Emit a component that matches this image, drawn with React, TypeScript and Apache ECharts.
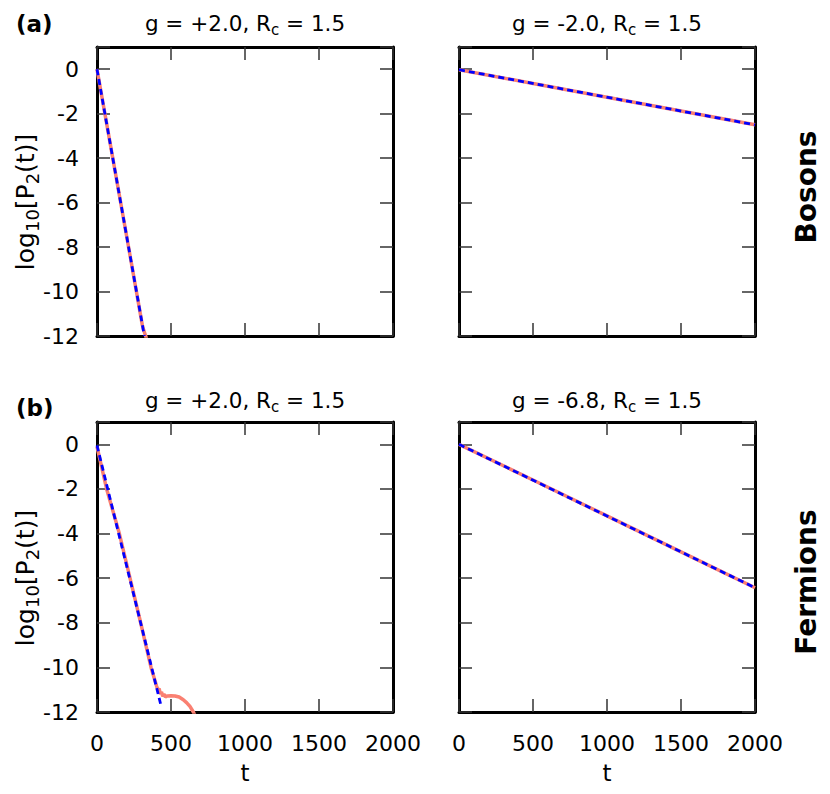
import React, { useEffect, useRef } from "react";
import * as echarts from "echarts";

// ---- data ----
const X_TICKS = [0, 500, 1000, 1500, 2000];
const Y_TICKS = [-12, -10, -8, -6, -4, -2, 0];

// (a) Bosons, g = +2.0
const BOS_POS_RED_T = [0, 100, 200, 306, 316, 329, 340];
const BOS_POS_RED_Y = [0, -3.75, -7.5, -11.5, -11.75, -12, -12.25];
const BOS_POS_BLUE_T = [0, 320];
const BOS_POS_BLUE_Y = [0, -12];

// (a) Bosons, g = -2.0
const BOS_NEG_RED_T = [0, 500, 1000, 1500, 2000];
const BOS_NEG_RED_Y = [-0.02, -0.64, -1.26, -1.88, -2.5];
const BOS_NEG_BLUE_T = [0, 2000];
const BOS_NEG_BLUE_Y = [-0.02, -2.5];

// (b) Fermions, g = +2.0
const FER_POS_RED_T = [0, 65, 151, 223, 295, 365, 403, 412, 420, 428, 436, 444, 452, 462, 475, 500, 527, 555, 583, 605, 628, 651, 665];
const FER_POS_RED_Y = [-0.1, -2, -4, -6, -8, -10, -10.85, -11.0, -10.95, -11.2, -11.1, -11.3, -11.2, -11.32, -11.28, -11.27, -11.28, -11.33, -11.45, -11.58, -11.75, -12, -12.2];
const FER_POS_BLUE_T = [0, 432];
const FER_POS_BLUE_Y = [-0.05, -11.7];

// (b) Fermions, g = -6.8
const FER_NEG_RED_T = [0, 500, 1000, 1500, 2000];
const FER_NEG_RED_Y = [0, -1.6, -3.21, -4.82, -6.43];
const FER_NEG_BLUE_T = [0, 2000];
const FER_NEG_BLUE_Y = [0, -6.43];

const TITLES = [
  ["g = +2.0, R", "c", " = 1.5"],
  ["g = -2.0, R", "c", " = 1.5"],
  ["g = +2.0, R", "c", " = 1.5"],
  ["g = -6.8, R", "c", " = 1.5"],
];
const PANEL_TAGS = ["(a)", "(b)"];
const ROW_NAMES = ["Bosons", "Fermions"];

const FONT = "DejaVu Sans";
const RED = "#fa8072";
const BLUE = "#0000ff";

const pairs = (t: number[], y: number[]) => t.map((v, i) => [v, y[i]]);

export default function App() {
  const ref = useRef<HTMLDivElement>(null);
  useEffect(() => {
    if (!ref.current) return;
    const chart = echarts.init(ref.current, null, { renderer: "svg" });

    const grids = [
      { left: 97, top: 47, width: 296, height: 289 },
      { left: 459, top: 47, width: 296, height: 289 },
      { left: 97, top: 422, width: 296, height: 290 },
      { left: 459, top: 422, width: 296, height: 290 },
    ];

    const axisLine = { show: true, onZero: false, lineStyle: { color: "#000", width: 3 } };
    const axisTick = { show: true, inside: true, length: 13, lineStyle: { color: "#333", width: 1.5 } };
    const labelStyle = { fontFamily: FONT, fontSize: 22, color: "#000" };

    const xAxis: any[] = [];
    const yAxis: any[] = [];
    grids.forEach((_, i) => {
      const showX = i >= 2;
      const showY = i % 2 === 0;
      xAxis.push({
        gridIndex: i, type: "value", position: "bottom", min: X_TICKS[0], max: X_TICKS[X_TICKS.length - 1], interval: 500,
        axisLine, axisTick, splitLine: { show: false },
        axisLabel: { show: showX, margin: 20, ...labelStyle, formatter: (v: number) => String(v) },
      });
      xAxis.push({
        gridIndex: i, type: "value", position: "top", min: X_TICKS[0], max: X_TICKS[X_TICKS.length - 1], interval: 500,
        axisLine, axisTick, splitLine: { show: false }, axisLabel: { show: false },
      });
      yAxis.push({
        gridIndex: i, type: "value", position: "left", min: Y_TICKS[0], max: 1, interval: 2,
        axisLine, axisTick, splitLine: { show: false },
        axisLabel: {
          show: showY, margin: 18, ...labelStyle,
          formatter: (v: number) => (Y_TICKS.indexOf(v) >= 0 ? String(v) : ""),
        },
      });
      yAxis.push({
        gridIndex: i, type: "value", position: "right", min: Y_TICKS[0], max: 1, interval: 2,
        axisLine, axisTick, splitLine: { show: false }, axisLabel: { show: false },
      });
    });

    const panels = [
      [BOS_POS_RED_T, BOS_POS_RED_Y, BOS_POS_BLUE_T, BOS_POS_BLUE_Y],
      [BOS_NEG_RED_T, BOS_NEG_RED_Y, BOS_NEG_BLUE_T, BOS_NEG_BLUE_Y],
      [FER_POS_RED_T, FER_POS_RED_Y, FER_POS_BLUE_T, FER_POS_BLUE_Y],
      [FER_NEG_RED_T, FER_NEG_RED_Y, FER_NEG_BLUE_T, FER_NEG_BLUE_Y],
    ];
    const series: any[] = [];
    panels.forEach((p, i) => {
      series.push({
        type: "line", xAxisIndex: 2 * i, yAxisIndex: 2 * i, data: pairs(p[0], p[1]),
        showSymbol: false, clip: true, z: 2,
        lineStyle: { color: RED, width: 3.5 },
      });
      series.push({
        type: "line", xAxisIndex: 2 * i, yAxisIndex: 2 * i, data: pairs(p[2], p[3]),
        showSymbol: false, clip: true, z: 3,
        lineStyle: { color: BLUE, width: 2.8, type: [6, 4] },
      });
    });

    const rich = (size: number, lh: number) => ({
      m: { fontFamily: FONT, fontSize: size, fill: "#000", lineHeight: lh },
      s: { fontFamily: FONT, fontSize: Math.round(size * 0.7), fill: "#000", verticalAlign: "bottom" },
    });

    const titlePos = [
      [245, 23], [607, 23], [245, 400], [607, 400],
    ];
    const graphic: any[] = [];
    TITLES.forEach((tt, i) => {
      graphic.push({
        type: "text", x: titlePos[i][0], y: titlePos[i][1],
        style: {
          text: `{m|${tt[0]}}{s|${tt[1]}}{m|${tt[2]}}`,
          rich: rich(21.5, 28), align: "center", verticalAlign: "middle",
        },
      });
    });
    [24, 408].forEach((y, i) => {
      graphic.push({
        type: "text", x: 16, y,
        style: { text: PANEL_TAGS[i], fontFamily: FONT, fontWeight: "bold", fontSize: 23, fill: "#000", align: "left", verticalAlign: "middle" },
      });
    });
    [202, 578].forEach((y) => {
      graphic.push({
        type: "text", x: 25, y, rotation: Math.PI / 2,
        style: {
          text: "{m|log}{s|10}{m|[P}{s|2}{m|(t)]}",
          rich: rich(25, 32), align: "center", verticalAlign: "middle",
        },
      });
    });
    [187, 582].forEach((y, i) => {
      graphic.push({
        type: "text", x: 806, y, rotation: Math.PI / 2,
        style: { text: ROW_NAMES[i], fontFamily: FONT, fontWeight: "bold", fontSize: 28, fill: "#000", align: "center", verticalAlign: "middle" },
      });
    });
    [245, 607].forEach((x) => {
      graphic.push({
        type: "text", x, y: 773,
        style: { text: "t", fontFamily: FONT, fontSize: 23, fill: "#000", align: "center", verticalAlign: "middle" },
      });
    });

    chart.setOption({
      animation: false,
      backgroundColor: "#fff",
      grid: grids,
      xAxis,
      yAxis,
      series,
      graphic,
    });
    return () => chart.dispose();
  }, []);
  return <div ref={ref} style={{ position: "absolute", left: 0, top: 0, width: 830, height: 794 }} />;
}
